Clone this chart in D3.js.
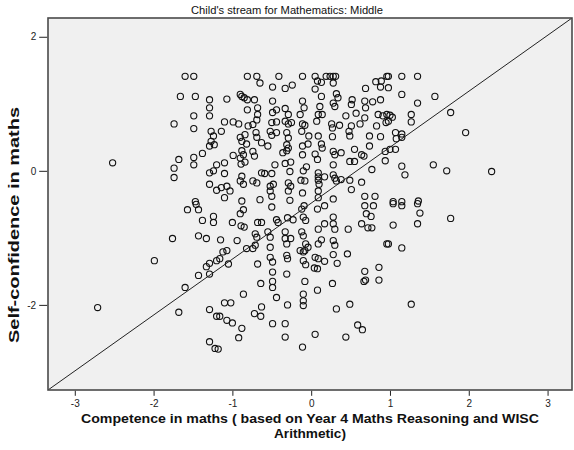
<!DOCTYPE html>
<html>
<head>
<meta charset="utf-8">
<script src="https://cdn.jsdelivr.net/npm/d3@7"></script>
<style>
  html, body { margin: 0; padding: 0; background: #ffffff; }
  svg { display: block; }
</style>
</head>
<body>
<svg id="chart" width="574" height="450"></svg>
<script>
// ---------------- DATA ----------------
const chartTitle = "Child's stream for Mathematics: Middle";
const xTitleLines = ["Competence in maths ( based on Year 4 Maths Reasoning and WISC", "Arithmetic)"];
const yTitle = "Self-confidence in maths";

const xTicks = [-3, -2, -1, 0, 1, 2, 3];
const yTicks = [-2, 0, 2];
const xDomain = [-3.34, 3.31];
const yDomain = [-3.27, 2.28];

// reference line endpoints (data units)
const refLineX = [-3.34, 3.31];
const refLineY = [-3.27, 2.28];

// competence (x) and self-confidence (y), paired by index
const competence = [
-1.60,-1.49,-1.66,-1.47,-1.29,-1.29,-1.29,-1.49,-1.74,-1.49,-1.27,-1.24,-1.27,-1.29,-1.23,-1.38,-2.52,-1.68,-1.74,-1.74,-1.49,-1.49,-1.29,-1.24,-1.20,-1.29,-1.20,-1.47,
0.96,-0.81,-0.69,-0.41,-0.11,0.05,0.19,0.24,0.28,0.31,-0.65,0.08,0.13,0.28,-0.49,-0.33,-0.24,0.05,0.69,0.82,0.89,0.88,
-0.90,-0.88,-0.85,-0.81,-1.07,-0.72,-0.49,0.13,0.32,0.34,0.28,0.52,0.68,0.78,0.88,-0.11,
-0.68,-0.81,-0.33,-0.09,0.30,0.51,0.69,-0.44,0.11,
-0.68,-0.49,-0.29,-0.14,0.09,0.14,0.44,0.57,0.68,0.85,0.91,0.96,
-1.10,-0.99,-0.92,-0.80,-0.74,-0.69,-0.50,-0.44,-0.33,-0.29,-0.25,-0.11,-0.08,0.07,0.26,0.27,0.36,0.51,0.48,0.49,0.62,0.83,0.95,
-1.14,-0.90,-0.84,-0.70,-0.69,-0.52,-0.50,-0.44,-0.31,-0.29,-0.12,-0.03,0.09,0.27,0.74,0.88,
-0.88,-0.82,-0.63,-0.55,-0.31,-0.29,-0.11,-0.04,0.13,0.14,0.55,0.74,
-0.99,-0.88,-0.86,-0.90,-0.74,-0.72,-0.36,-0.31,-0.11,0.05,0.28,0.30,0.38,0.64,0.67,0.94,
-1.10,-0.89,-0.84,-0.46,-0.33,-0.26,-0.06,0.08,0.28,0.49,0.55,0.94,
-1.10,-0.88,-0.63,-0.59,-0.50,-0.27,-0.10,0.09,0.09,0.17,0.28,0.30,0.77,
-1.14,-1.07,-0.90,-0.86,-0.74,-0.69,-0.52,-0.48,-0.29,-0.26,-0.13,-0.08,0.09,0.10,0.32,0.38,0.49,0.64,
-1.03,-1.10,-0.88,-0.65,-0.52,-0.50,-0.29,-0.27,-0.11,0.09,0.09,0.28,0.51,0.68,0.81,
0.98,1.15,1.35,0.98,1.15,1.57,1.35,1.00,1.03,0.98,1.27,1.27,1.77,1.07,1.15,1.15,1.08,1.96,1.00,1.07,1.15,1.19,1.55,1.72,2.29,1.04,1.15,1.36,
-1.57,-1.43,-1.46,-1.38,-1.24,-1.24,-1.76,-1.43,-1.33,-1.99,-1.33,-1.29,-1.20,-1.43,-1.29,-1.60,-2.71,-1.68,-1.29,-1.20,-1.29,-1.22,
-0.86,-0.90,-0.50,-0.12,-0.09,0.08,0.17,0.68,0.79,0.70,0.76,
-1.00,-0.89,-0.85,-0.68,-0.63,-0.44,-0.42,-0.30,-0.23,-0.10,-0.07,0.09,0.17,0.28,0.28,0.30,0.47,0.64,0.72,0.77,
-1.15,-0.94,-0.71,-0.69,-0.55,-0.52,-0.33,-0.33,-0.31,-0.26,-0.12,-0.10,-0.07,-0.04,0.09,0.13,0.28,0.30,0.46,0.96,-0.71,-0.74,-0.52,
-1.12,-1.07,-1.16,-1.05,-0.82,-0.68,-0.52,-0.49,-0.31,-0.30,-0.14,-0.10,-0.08,-0.10,-0.07,0.05,0.09,0.17,0.04,0.08,0.28,0.33,
-0.49,-0.31,-0.64,-0.49,-0.49,-0.08,0.27,0.68,0.67,0.69,0.86,0.86,
-0.86,-1.10,-1.02,-0.44,-0.10,-0.10,-0.10,0.08,-0.30,-0.63,-0.72,-0.64,0.32,0.49,
-1.16,-1.07,-1.00,-0.88,-0.92,-0.49,-0.33,-0.33,0.05,0.44,0.59,0.65,-0.11,-1.18,
1.04,1.15,1.35,1.38,1.04,1.35,1.77,0.98,1.15,1.27
];
const confidence = [
1.41,1.41,1.11,1.11,1.06,0.94,0.82,0.82,0.70,0.63,0.59,0.52,0.44,0.37,0.39,0.26,0.12,0.17,0.04,-0.10,0.20,0.09,-0.03,0.00,0.09,-0.20,-0.29,-0.46,
1.41,1.41,1.41,1.41,1.41,1.41,1.41,1.41,1.41,1.41,1.31,1.34,1.32,1.31,1.25,1.23,1.28,1.22,1.23,1.33,1.34,1.25,
1.14,1.11,1.09,1.06,1.07,1.06,1.04,1.11,1.15,1.09,1.01,1.06,1.04,1.03,1.06,1.04,
0.94,0.91,0.93,0.94,0.96,0.99,0.94,0.91,0.96,
0.84,0.87,0.84,0.84,0.84,0.84,0.82,0.86,0.79,0.84,0.82,0.84,
0.73,0.73,0.70,0.67,0.69,0.76,0.72,0.73,0.74,0.70,0.72,0.70,0.68,0.74,0.70,0.64,0.68,0.67,0.59,0.52,0.70,0.67,0.72,
0.59,0.50,0.54,0.57,0.50,0.59,0.53,0.57,0.57,0.49,0.59,0.52,0.52,0.51,0.52,0.51,
0.44,0.40,0.42,0.37,0.39,0.34,0.37,0.40,0.40,0.34,0.32,0.37,
0.23,0.30,0.24,0.19,0.29,0.22,0.27,0.30,0.24,0.25,0.29,0.24,0.27,0.24,0.22,0.29,
0.12,0.10,0.13,0.09,0.11,0.13,0.06,0.17,0.09,0.14,0.14,0.15,
-0.04,-0.08,-0.03,-0.04,-0.04,-0.01,0.00,-0.03,-0.09,-0.09,-0.06,-0.11,0.02,
-0.25,-0.23,-0.15,-0.20,-0.15,-0.18,-0.23,-0.20,-0.18,-0.23,-0.14,-0.15,-0.14,-0.20,-0.15,-0.13,-0.14,-0.17,
-0.30,-0.40,-0.45,-0.43,-0.30,-0.38,-0.30,-0.44,-0.33,-0.30,-0.40,-0.42,-0.28,-0.38,-0.38,
1.41,1.41,1.41,1.24,1.14,1.11,1.01,0.83,0.80,0.74,0.84,0.73,0.87,0.57,0.55,0.50,0.48,0.57,0.32,0.32,0.07,-0.06,0.09,0.00,-0.01,-0.46,-0.46,-0.45,
-0.58,-0.58,-0.50,-0.74,-0.68,-0.77,-1.01,-0.97,-1.01,-1.34,-1.43,-1.38,-1.34,-1.56,-1.54,-1.74,-2.04,-2.11,-2.07,-2.17,-2.55,-2.65,
-0.58,-0.64,-0.54,-0.57,-0.52,-0.57,-0.52,-0.52,-0.52,-0.64,-0.68,
-0.77,-0.82,-0.84,-0.77,-0.77,-0.73,-0.77,-0.70,-0.73,-0.69,-0.74,-0.87,-0.79,-0.69,-0.79,-0.87,-0.87,-0.79,-0.85,-0.85,
-1.03,-1.04,-0.94,-0.99,-0.91,-0.99,-0.91,-1.01,-1.09,-1.01,-0.91,-0.97,-1.09,-1.14,-1.09,-1.03,-1.04,-1.11,-1.24,-1.09,-1.11,-1.16,-1.14,
-1.21,-1.19,-1.31,-1.39,-1.16,-1.39,-1.29,-1.36,-1.26,-1.31,-1.19,-1.21,-1.19,-1.34,-1.40,-1.29,-1.31,-1.35,-1.45,-1.46,-1.25,-1.38,
-1.51,-1.54,-1.68,-1.65,-1.74,-1.65,-1.68,-1.50,-1.65,-1.63,-1.44,-1.63,
-1.84,-1.97,-1.97,-1.89,-1.84,-1.94,-2.01,-1.78,-2.00,-2.03,-2.13,-2.17,-2.06,-1.99,
-2.17,-2.23,-2.27,-2.35,-2.49,-2.28,-2.28,-2.48,-2.44,-2.48,-2.30,-2.37,-2.63,-2.66,
-0.49,-0.52,-0.49,-0.63,-0.81,-0.79,-0.71,-1.09,-1.15,-1.99
];

// ---------------- LAYOUT ----------------
const svg = d3.select("#chart");
const W = 574, H = 450;
const plot = { left: 48, right: 572, top: 18, bottom: 390 };
const FONT = "'Liberation Sans', Arial, Helvetica, sans-serif";

svg.append("rect").attr("width", W).attr("height", H).attr("fill", "#ffffff");

const x = d3.scaleLinear().domain(xDomain).range([plot.left, plot.right]);
const y = d3.scaleLinear().domain(yDomain).range([plot.bottom, plot.top]);

// plot background
svg.append("rect")
  .attr("x", plot.left).attr("y", plot.top)
  .attr("width", plot.right - plot.left).attr("height", plot.bottom - plot.top)
  .attr("fill", "#f0f0f0");

svg.append("clipPath").attr("id", "clip")
  .append("rect")
  .attr("x", plot.left).attr("y", plot.top)
  .attr("width", plot.right - plot.left).attr("height", plot.bottom - plot.top);

// points
const pts = competence.map((c, i) => ({ c, s: confidence[i] }));
svg.append("g").attr("clip-path", "url(#clip)")
  .selectAll("circle").data(pts).join("circle")
  .attr("cx", d => x(d.c)).attr("cy", d => y(d.s))
  .attr("r", 3.1)
  .attr("fill", "none")
  .attr("stroke", "#111")
  .attr("stroke-width", 1.1);

// reference line
svg.append("g").attr("clip-path", "url(#clip)")
  .append("path")
  .datum(refLineX.map((v, i) => [v, refLineY[i]]))
  .attr("d", d3.line().x(d => x(d[0])).y(d => y(d[1])))
  .attr("fill", "none").attr("stroke", "#222").attr("stroke-width", 1);

// frame
svg.append("rect")
  .attr("x", plot.left).attr("y", plot.top)
  .attr("width", plot.right - plot.left).attr("height", plot.bottom - plot.top)
  .attr("fill", "none").attr("stroke", "#4a4a4a").attr("stroke-width", 1.6);

// axes
const xAxis = d3.axisBottom(x).tickValues(xTicks).tickSize(5).tickPadding(4)
  .tickFormat(d => String(d));
const gx = svg.append("g").attr("transform", `translate(0,${plot.bottom + 0.8})`).call(xAxis);
gx.select(".domain").remove();
gx.selectAll(".tick line").attr("stroke", "#222");
gx.selectAll(".tick text").attr("font-family", FONT).attr("font-size", 10).attr("fill", "#222");

const yAxis = d3.axisLeft(y).tickValues(yTicks).tickSize(8).tickPadding(3)
  .tickFormat(d => String(d));
const gy = svg.append("g").attr("transform", `translate(${plot.left - 0.8},0)`).call(yAxis);
gy.select(".domain").remove();
gy.selectAll(".tick line").attr("stroke", "#222");
gy.selectAll(".tick text").attr("font-family", FONT).attr("font-size", 10).attr("fill", "#222");

// title
svg.append("text")
  .attr("x", 287).attr("y", 13.5)
  .attr("text-anchor", "middle")
  .attr("font-family", FONT).attr("font-size", 11.5)
  .attr("textLength", 192).attr("lengthAdjust", "spacingAndGlyphs")
  .attr("fill", "#111")
  .text(chartTitle);

// x title
const xCenter = (plot.left + plot.right) / 2;
const xLens = [458, 72];
xTitleLines.forEach((t, i) => {
  svg.append("text")
    .attr("x", xCenter).attr("y", 423 + i * 15)
    .attr("text-anchor", "middle")
    .attr("font-family", FONT).attr("font-size", 13).attr("font-weight", "bold")
    .attr("textLength", xLens[i]).attr("lengthAdjust", "spacingAndGlyphs")
    .attr("fill", "#111")
    .text(t);
});

// y title
svg.append("text")
  .attr("transform", "translate(19,225) rotate(-90)")
  .attr("text-anchor", "middle")
  .attr("font-family", FONT).attr("font-size", 15).attr("font-weight", "bold")
  .attr("textLength", 236).attr("lengthAdjust", "spacingAndGlyphs")
  .attr("fill", "#111")
  .text(yTitle);
</script>
</body>
</html>
